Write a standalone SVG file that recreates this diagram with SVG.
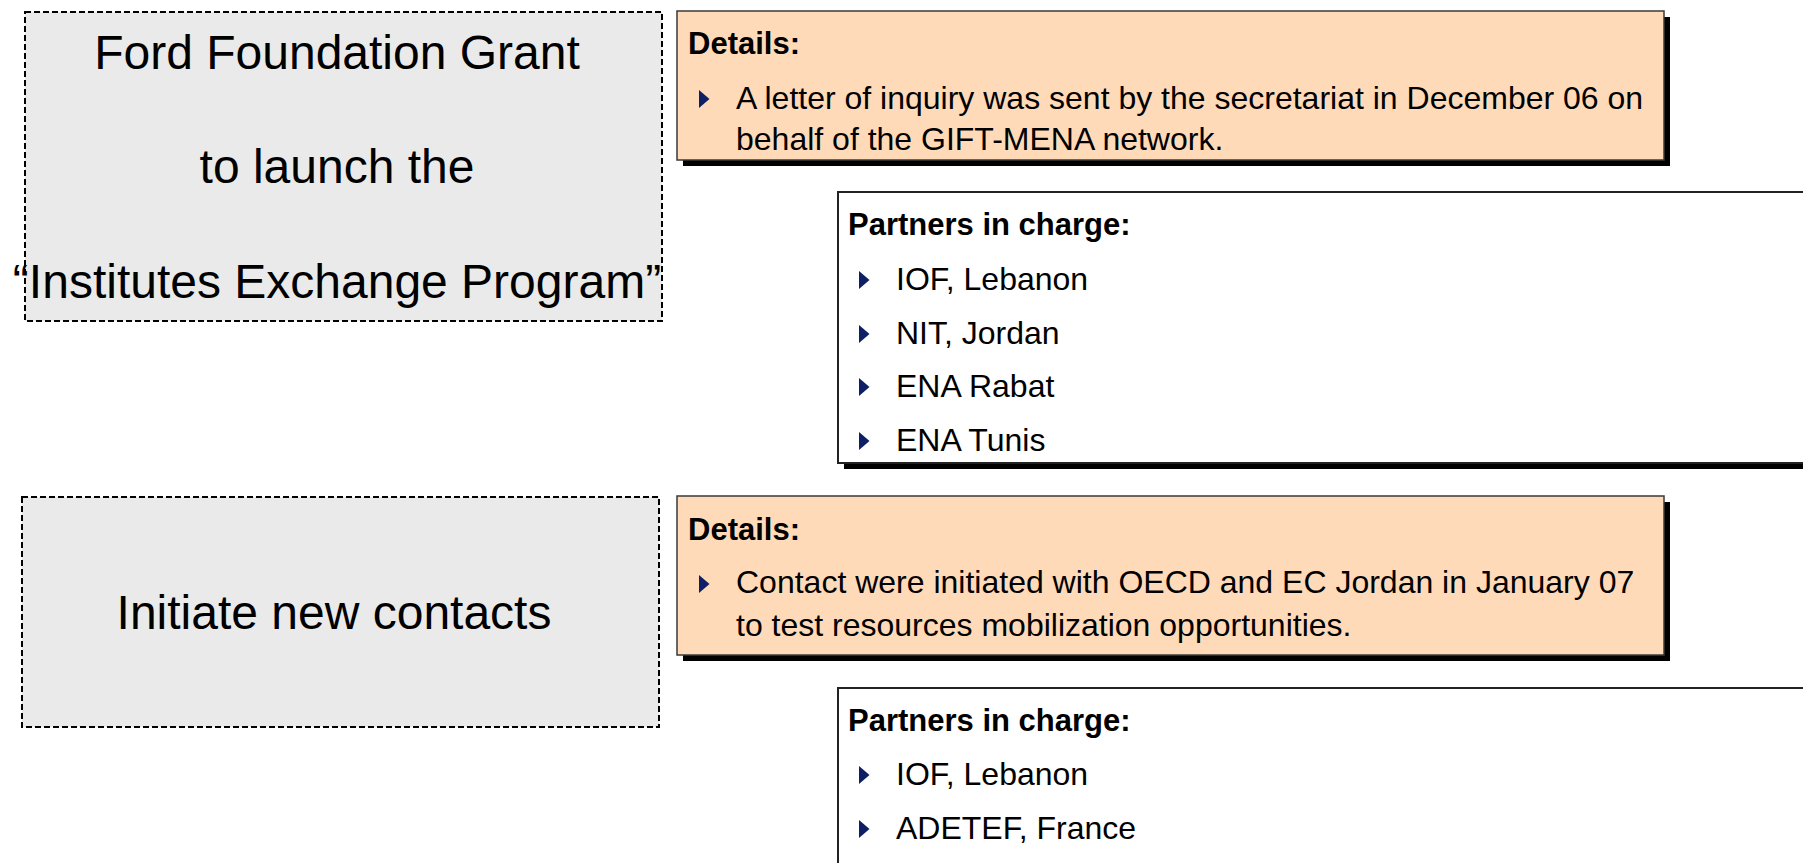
<svg xmlns="http://www.w3.org/2000/svg" width="1803" height="863" viewBox="0 0 1803 863">
<defs>
<style>
.topic{fill:#EAEAEA;stroke:#000;stroke-width:2;stroke-dasharray:6,3}
.shadow{fill:#000}
.details{fill:#FFDAB9;stroke:#3a3a3a;stroke-width:1.5}
.partners{fill:#fff;stroke:#222;stroke-width:2}
.big{font-family:"Liberation Sans",Arial,sans-serif;font-size:48px;fill:#000;text-anchor:middle}
.head{font-family:"Liberation Sans",Arial,sans-serif;font-size:31px;font-weight:bold;fill:#000}
.txt{font-family:"Liberation Sans",Arial,sans-serif;font-size:32px;fill:#000}
.bul{fill:#0f1f66}
</style>
<path id="tri" d="M0,0 L10.5,9 L0,18 Z"/>
</defs>
<rect width="1803" height="863" fill="#fff"/>

<g id="topic1">
<rect class="topic" x="25" y="12" width="637" height="309"/>
<text class="big" x="337" y="69">Ford Foundation Grant</text>
<text class="big" x="337" y="183">to launch the</text>
<text class="big" x="337" y="298">“Institutes Exchange Program”</text>
</g>

<g id="details1">
<rect class="shadow" x="683" y="17" width="987" height="149"/>
<rect class="details" x="677" y="11" width="987" height="149"/>
<text class="head" x="688" y="54">Details:</text>
<use href="#tri" class="bul" x="699" y="90"/>
<text class="txt" x="736" y="109">A letter of inquiry was sent by the secretariat in December 06 on</text>
<text class="txt" x="736" y="150">behalf of the GIFT-MENA network.</text>
</g>

<g id="partners1">
<rect class="shadow" x="844" y="198" width="1000" height="271"/>
<rect class="partners" x="838" y="192" width="1000" height="271"/>
<text class="head" x="848" y="235">Partners in charge:</text>
<use href="#tri" class="bul" x="859" y="271"/>
<text class="txt" x="896" y="290">IOF, Lebanon</text>
<use href="#tri" class="bul" x="859" y="325"/>
<text class="txt" x="896" y="344">NIT, Jordan</text>
<use href="#tri" class="bul" x="859" y="378"/>
<text class="txt" x="896" y="397">ENA Rabat</text>
<use href="#tri" class="bul" x="859" y="432"/>
<text class="txt" x="896" y="451">ENA Tunis</text>
</g>

<g id="topic2">
<rect class="topic" x="22" y="497" width="637" height="230"/>
<text class="big" x="334" y="629">Initiate new contacts</text>
</g>

<g id="details2">
<rect class="shadow" x="683" y="502" width="987" height="159"/>
<rect class="details" x="677" y="496" width="987" height="159"/>
<text class="head" x="688" y="540">Details:</text>
<use href="#tri" class="bul" x="699" y="575"/>
<text class="txt" x="736" y="593">Contact were initiated with OECD and EC Jordan in January 07</text>
<text class="txt" x="736" y="636">to test resources mobilization opportunities.</text>
</g>

<g id="partners2">
<rect class="shadow" x="844" y="694" width="1000" height="300"/>
<rect class="partners" x="838" y="688" width="1000" height="300"/>
<text class="head" x="848" y="731">Partners in charge:</text>
<use href="#tri" class="bul" x="859" y="766"/>
<text class="txt" x="896" y="785">IOF, Lebanon</text>
<use href="#tri" class="bul" x="859" y="820"/>
<text class="txt" x="896" y="839">ADETEF, France</text>
</g>

<g id="connectors"></g>
</svg>
